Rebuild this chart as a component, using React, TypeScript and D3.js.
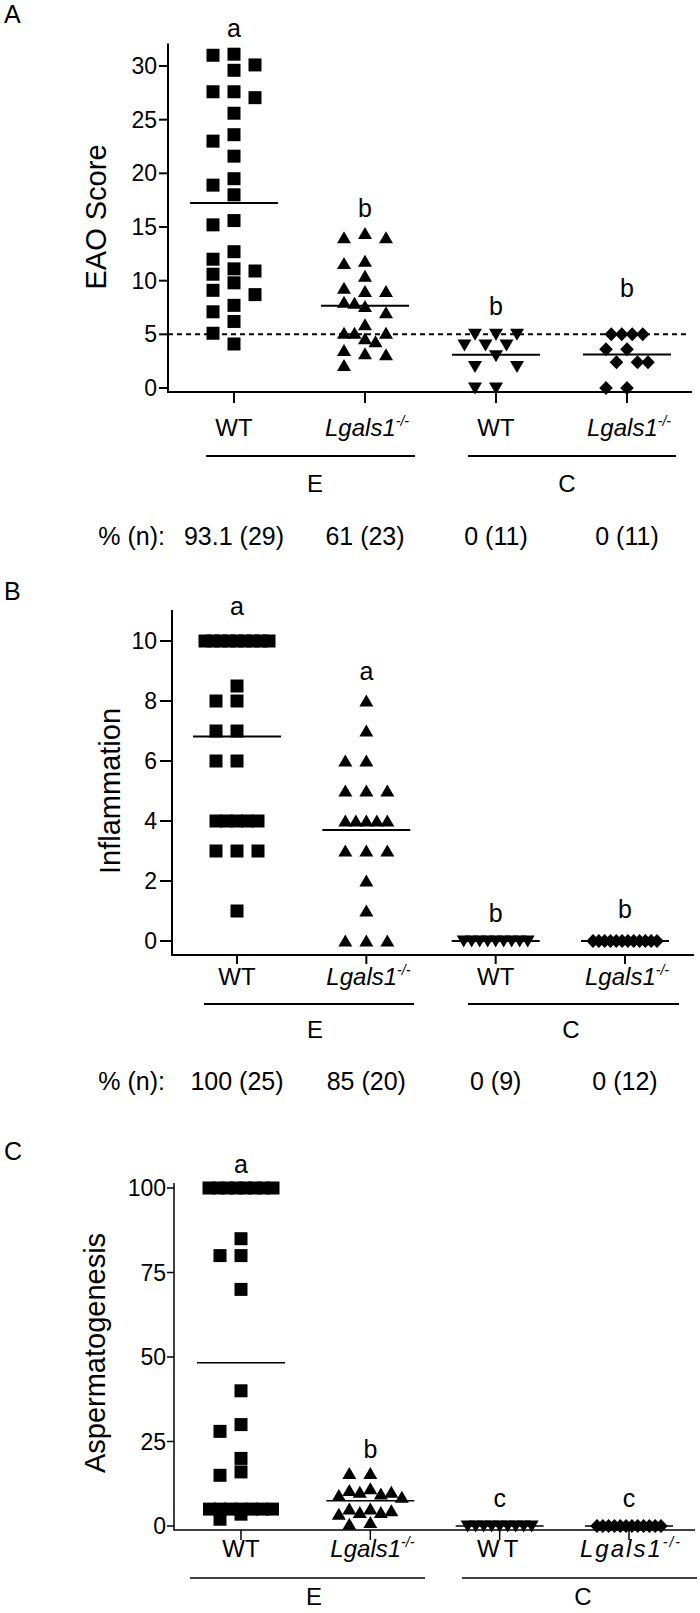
import React from 'react';
import * as d3 from 'd3';

// ---------------- DATA ----------------
const categories = ['WT_E', 'KO_E', 'WT_C', 'KO_C'];
const genotypeLabels = ['WT', 'KO', 'WT', 'KO'];
const groupNames = ['E', 'C'];

// Panel A – EAO score
const eaoTicks = [0, 5, 10, 15, 20, 25, 30];
const eaoWT_E = [31.0, 30.1, 27.05, 23.0, 19.5, 15.6, 12.0, 10.9, 9.8, 7.1, 29.6, 27.6, 25.6, 23.6, 21.6, 18.0, 15.2, 12.7, 10.6, 8.7, 6.2, 4.1, 31.1, 27.6, 18.9, 11.1, 9.1, 7.7, 5.1];
const eaoKO_E = [14, 14, 14.4, 11.6, 11.8, 10.4, 9, 9, 9.3, 8, 7.9, 7.6, 7, 5.9, 5.1, 4.6, 5.1, 5.1, 4.3, 3.2, 3.5, 3.1, 2.1];
const eaoWT_C = [5, 5, 5, 4, 4, 4, 3, 2, 2, 0, 0];
const eaoKO_C = [5, 5, 5, 5, 3.6, 3.6, 2.4, 2.4, 2.4, 0, 0];
const eaoLetters = ['a', 'b', 'b', 'b'];
const eaoLetterY = [32.7, 15.9, 6.8, 8.5];
const eaoPct = ['93.1 (29)', '61 (23)', '0 (11)', '0 (11)'];
const eaoThreshold = 5;

// Panel B – Inflammation
const inflTicks = [0, 2, 4, 6, 8, 10];
const inflWT_E = [10, 10, 10, 10, 10, 10, 10, 10, 10, 8.5, 8, 8, 7, 7, 6, 6, 4, 4, 4, 4, 4, 3, 3, 3, 1];
const inflKO_E = [8, 7, 6, 6, 5, 5, 5, 4, 4, 4, 4, 4, 3, 3, 3, 2, 1, 0, 0, 0];
const inflWT_C = [0, 0, 0, 0, 0, 0, 0, 0, 0];
const inflKO_C = [0, 0, 0, 0, 0, 0, 0, 0, 0, 0, 0, 0];
const inflLetters = ['a', 'a', 'b', 'b'];
const inflLetterY = [10.87, 8.7, 0.63, 0.77];
const inflPct = ['100 (25)', '85 (20)', '0 (9)', '0 (12)'];

// Panel C – Aspermatogenesis
const aspTicks = [0, 25, 50, 75, 100];
const aspWT_E = [100, 100, 100, 100, 100, 100, 100, 100, 85, 80, 80, 70, 40, 30, 28, 20, 16, 15, 5, 5, 5, 5, 5, 5, 5, 3.5, 2];
const aspKO_E = [15.5, 15.5, 11, 10.5, 10, 10, 9.5, 9, 8.5, 5, 5, 4.5, 4, 4, 3.5, 1, 0.5];
const aspWT_C = [0, 0, 0, 0, 0, 0, 0, 0, 0];
const aspKO_C = [0, 0, 0, 0, 0, 0, 0, 0, 0, 0, 0, 0];
const aspLetters = ['a', 'b', 'c', 'c'];
const aspLetterY = [104.5, 20.1, 5.6, 5.6];

// ---------------- LAYOUT ----------------
const FONT = "Arial, 'Liberation Sans', Helvetica, sans-serif";
const markerKinds = ['square', 'triUp', 'triDown', 'diamond'];

function markerPath(kind: string) {
  switch (kind) {
    case 'square': return 'M-6.5,-6.5H6.5V6.5H-6.5Z';
    case 'triUp': return 'M0,-6.5L7,5.5L-7,5.5Z';
    case 'triDown': return 'M-7,-5.5L7,-5.5L0,6.5Z';
    default: return 'M0,-7L6.8,0L0,7L-6.8,0Z';
  }
}

function swarm(values: number[], y: (v: number) => number) {
  const half = 10.5, maxSpan = 64, mk = 13;
  const pts = values.map(v => ({ v, py: y(v) })).sort((a, b) => a.py - b.py);
  const out: { v: number; py: number; dx: number }[] = [];
  let i = 0;
  while (i < pts.length) {
    let j = i;
    while (j < pts.length && Math.abs(pts[j].py - pts[i].py) < 1) j++;
    const k = j - i;
    if (k >= 4) {
      const sp = Math.min(half, maxSpan / (k - 1));
      for (let m = 0; m < k; m++) out.push({ ...pts[i + m], dx: (m - (k - 1) / 2) * sp });
    } else {
      for (let m = i; m < j; m++) {
        const p = pts[m];
        let chosen: number | null = null;
        let fallback = 0, bestScore = -1;
        for (const c of [0, -2, 2, -1, 1, -3, 3]) {
          const dx = c * half;
          let minDy = Infinity;
          for (const q of out) if (Math.abs(q.dx - dx) < half * 0.9) minDy = Math.min(minDy, Math.abs(q.py - p.py));
          if (minDy >= mk) { chosen = dx; break; }
          if (minDy > bestScore) { bestScore = minDy; fallback = dx; }
        }
        out.push({ ...p, dx: chosen !== null ? chosen : fallback });
      }
    }
    i = j;
  }
  return out;
}

type PanelCfg = {
  letter: string; title: string; ticks: number[]; domain: [number, number];
  series: number[][]; letters: string[]; letterY: number[]; pct?: string[];
  threshold?: number;
  yAxisX: number; xRange: [number, number]; yRange: [number, number]; axisTop: number;
  xAxisY: number; xAxisRight: number; yTickLen: number; yLabelRight: number; xTickLen: number;
  catBaseline: number; groupLineY: number; groupLines: [number, number][]; groupTextX: number[];
  groupTextBaseline: number; pctBaseline?: number; titleX: number; titleY: number;
  letterBaseline: number; sw: number; spacedControls?: boolean;
};

function Panel({ c }: { c: PanelCfg }) {
  const x = d3.scalePoint<string>().domain(categories).range(c.xRange);
  const y = d3.scaleLinear().domain(c.domain).range(c.yRange);
  const fs = 23;
  return (
    <g fontFamily={FONT} fill="#000">
      <text x={4} y={c.letterBaseline} fontSize={25}>{c.letter}</text>
      {/* y axis */}
      <line x1={c.yAxisX} x2={c.yAxisX} y1={y(c.axisTop)} y2={c.xAxisY} stroke="#000" strokeWidth={c.sw} />
      {c.ticks.map(t => (
        <g key={t}>
          <line x1={c.yAxisX - c.yTickLen} x2={c.yAxisX} y1={y(t)} y2={y(t)} stroke="#000" strokeWidth={c.sw} />
          <text x={c.yLabelRight} y={y(t) + 8} fontSize={fs} textAnchor="end">{t}</text>
        </g>
      ))}
      <text transform={`translate(${c.titleX},${c.titleY}) rotate(-90)`} fontSize={29} textAnchor="middle">{c.title}</text>
      {/* x axis */}
      <line x1={c.yAxisX - c.sw / 2} x2={c.xAxisRight} y1={c.xAxisY} y2={c.xAxisY} stroke="#000" strokeWidth={c.sw} />
      {categories.map((cat) => (
        <line key={cat} x1={x(cat)} x2={x(cat)} y1={c.xAxisY} y2={c.xAxisY + c.xTickLen} stroke="#000" strokeWidth={c.sw} />
      ))}
      {c.threshold !== undefined && (
        <line x1={c.yAxisX} x2={c.xAxisRight - 5} y1={y(c.threshold)} y2={y(c.threshold)} stroke="#000" strokeWidth={2} strokeDasharray="5,4" />
      )}
      {/* points */}
      {c.series.map((vals, i) => {
        const cx = x(categories[i]) as number;
        const pts = swarm(vals, y);
        const m = d3.mean(vals) as number;
        return (
          <g key={i}>
            {pts.map((p, j) => (
              <path key={j} d={markerPath(markerKinds[i])} transform={`translate(${cx + p.dx},${p.py})`} fill="#000" />
            ))}
            <line x1={cx - 44} x2={cx + 44} y1={y(m)} y2={y(m)} stroke="#000" strokeWidth={c.sw} />
            <text x={cx} y={y(c.letterY[i])} fontSize={25} textAnchor="middle">{c.letters[i]}</text>
          </g>
        );
      })}
      {/* category labels */}
      {categories.map((cat, i) => {
        const ls = c.spacedControls && i >= 2 ? 2 : 0;
        return genotypeLabels[i] === 'WT' ? (
          <text key={cat} x={x(cat)} y={c.catBaseline} fontSize={24} textAnchor="middle" letterSpacing={ls * 2}>WT</text>
        ) : (
          <text key={cat} x={(x(cat) as number) + 2} y={c.catBaseline} fontSize={24} textAnchor="middle" fontStyle="italic" letterSpacing={ls}>
            Lgals1<tspan fontSize={14} dy={-10}>-/-</tspan>
          </text>
        );
      })}
      {c.groupLines.map((gl, i) => (
        <g key={i}>
          <line x1={gl[0]} x2={gl[1]} y1={c.groupLineY} y2={c.groupLineY} stroke="#000" strokeWidth={c.sw} />
          <text x={c.groupTextX[i]} y={c.groupTextBaseline} fontSize={24} textAnchor="middle">{groupNames[i]}</text>
        </g>
      ))}
      {c.pct && (
        <g fontSize={25}>
          <text x={165} y={c.pctBaseline} textAnchor="end">% (n):</text>
          {c.pct.map((p, i) => (
            <text key={i} x={x(categories[i])} y={c.pctBaseline} textAnchor="middle">{p}</text>
          ))}
        </g>
      )}
    </g>
  );
}

const panelA: PanelCfg = {
  letter: 'A', title: 'EAO Score', ticks: eaoTicks, domain: [0, 30],
  series: [eaoWT_E, eaoKO_E, eaoWT_C, eaoKO_C], letters: eaoLetters, letterY: eaoLetterY, pct: eaoPct,
  threshold: eaoThreshold,
  yAxisX: 168, xRange: [234, 627], yRange: [388, 66], axisTop: 32.1, xAxisY: 392, xAxisRight: 692,
  yTickLen: 9, yLabelRight: 157, xTickLen: 11, catBaseline: 436, groupLineY: 456,
  groupLines: [[206, 415], [468, 676]], groupTextX: [315, 567], groupTextBaseline: 492, pctBaseline: 545,
  titleX: 106, titleY: 217, letterBaseline: 23, sw: 2,
};
const panelB: PanelCfg = {
  letter: 'B', title: 'Inflammation', ticks: inflTicks, domain: [0, 10],
  series: [inflWT_E, inflKO_E, inflWT_C, inflKO_C], letters: inflLetters, letterY: inflLetterY, pct: inflPct,
  yAxisX: 172, xRange: [237, 625], yRange: [941, 641], axisTop: 11.03, xAxisY: 955, xAxisRight: 694,
  yTickLen: 12, yLabelRight: 157, xTickLen: 9, catBaseline: 985, groupLineY: 1004,
  groupLines: [[204, 414], [468, 679]], groupTextX: [315, 571], groupTextBaseline: 1038, pctBaseline: 1090,
  titleX: 120, titleY: 791, letterBaseline: 600, sw: 2,
};
const panelC: PanelCfg = {
  letter: 'C', title: 'Aspermatogenesis', ticks: aspTicks, domain: [0, 100],
  series: [aspWT_E, aspKO_E, aspWT_C, aspKO_C], letters: aspLetters, letterY: aspLetterY,
  yAxisX: 174, xRange: [241, 629], yRange: [1526, 1188], axisTop: 101.5, xAxisY: 1530, xAxisRight: 695,
  yTickLen: 7, yLabelRight: 166, xTickLen: 10, catBaseline: 1557, groupLineY: 1578,
  groupLines: [[190, 425], [462, 697]], groupTextX: [314, 583], groupTextBaseline: 1605,
  titleX: 105, titleY: 1353, letterBaseline: 1160, sw: 1.5, spacedControls: true,
};

export default function App() {
  return (
    <svg width={700} height={1613} viewBox="0 0 700 1613" style={{ position: 'absolute', left: 0, top: 0, background: '#fff' }}>
      <rect width={700} height={1613} fill="#fff" />
      <Panel c={panelA} />
      <Panel c={panelB} />
      <Panel c={panelC} />
    </svg>
  );
}
